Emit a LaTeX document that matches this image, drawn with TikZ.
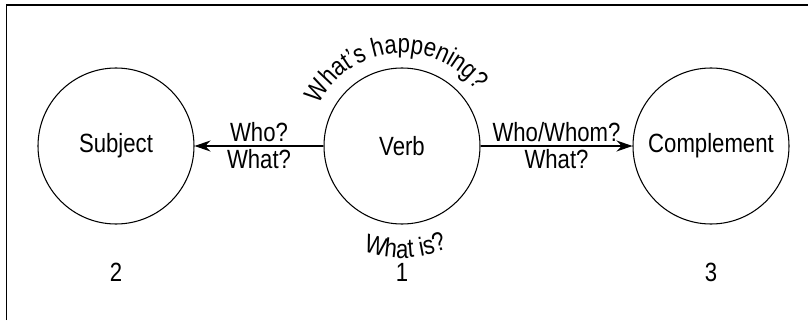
\documentclass[tikz,border=0pt]{standalone}
\usepackage{fontspec}
\setmainfont[FakeStretch=0.84]{Liberation Sans}
\usepackage{tikz}
\usetikzlibrary{arrows.meta, decorations.text}
\tikzstyle{word} = [draw, circle, minimum size=3.12cm, line width=0.6pt]
\tikzstyle{arrow} = [-{Stealth[length=3.2mm,width=2.2mm]}, line width=0.6pt]

\begin{document}
\fontsize{15}{18}\selectfont
\begin{tikzpicture}
\useasboundingbox (0,0) rectangle (16.16,6.4);
\draw[line width=1pt] (0.13,0) -- (0.13,6.3) -- (16.16,6.3);
\node[word] (subject) at (2.32,3.48) {Subject};
\node[word] (verb) at (8.04,3.48) {Verb};
\node[word] (complement) at (14.22,3.48) {Complement};
\draw[arrow] (verb) -- (subject) node[midway,above,inner sep=2pt] (who) {Who?} node[midway,below,inner sep=1.5pt] (what1) {What?};
\draw[arrow] (verb) -- (complement) node[midway,above,inner sep=2pt] (whom) {Who/Whom?} node[midway,below,inner sep=1.5pt] (what2) {What?};
\path[decorate, decoration={text along path, text={What's happening?}, text align=center}] (verb.center) ++(158:1.86) arc (158:32:1.86);
\path[decorate, decoration={text along path, text={What is?}, text align=center}] (verb.center) ++(251:2.24) arc (251:293:2.24);
\node (two) at (2.32,0.96) {2};
\node (one) at (8.04,0.96) {1};
\node (three) at (14.22,0.96) {3};
\end{tikzpicture}
\end{document}
